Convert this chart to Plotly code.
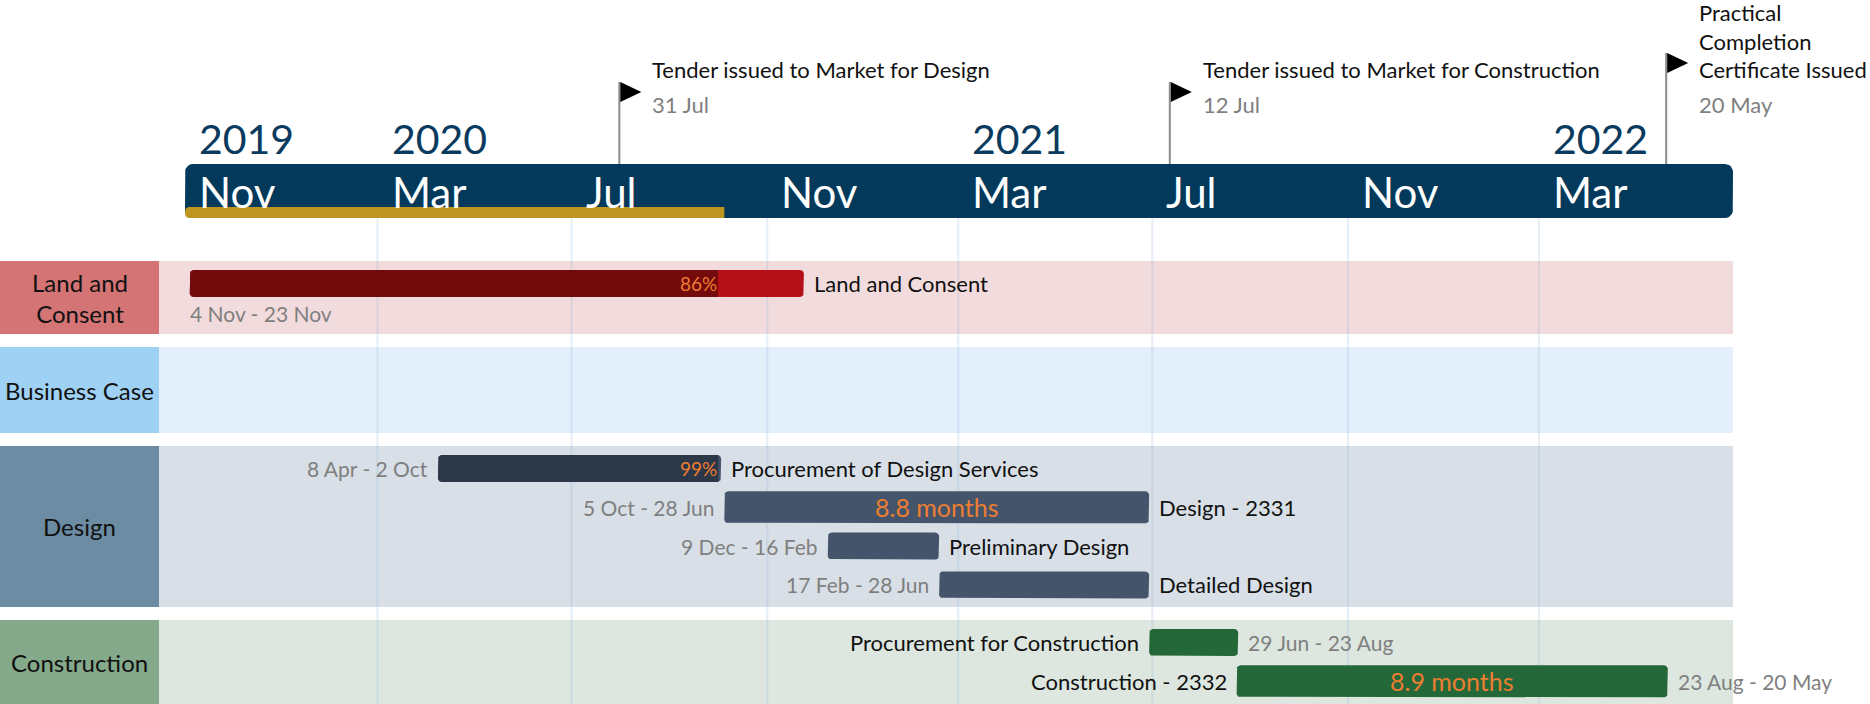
"""
Project timeline - swimlane Gantt with milestones
"""
import plotly.graph_objects as go
import numpy as np
import pandas as pd

# ---- chart data -------------------------------------------------------------
timeline_start = '2019-11-01'
timeline_end = '2022-07-01'
status_date = '2020-10-05'

month_ticks = ['2019-11-01', '2020-03-01', '2020-07-01', '2020-11-01',
               '2021-03-01', '2021-07-01', '2021-11-01', '2022-03-01']
month_labels = ['Nov', 'Mar', 'Jul', 'Nov', 'Mar', 'Jul', 'Nov', 'Mar']
year_ticks = ['2019-11-01', '2020-03-01', '2021-03-01', '2022-03-01']
year_labels = ['2019', '2020', '2021', '2022']

milestone_names = ['Tender issued to Market for Design',
                   'Tender issued to Market for Construction',
                   'Practical<br>Completion<br>Certificate Issued']
milestone_dates = ['2020-07-31', '2021-07-12', '2022-05-20']
milestone_date_labels = ['31 Jul', '12 Jul', '20 May']

lane_names = ['Land and<br>Consent', 'Business Case', 'Design', 'Construction']

task_names = ['Land and Consent', 'Procurement of Design Services', 'Design - 2331',
              'Preliminary Design', 'Detailed Design',
              'Procurement for Construction', 'Construction - 2332']
task_lane = [0, 2, 2, 2, 2, 3, 3]
task_row = [0, 0, 1, 2, 3, 0, 1]
task_start = ['2019-11-04', '2020-04-08', '2020-10-05', '2020-12-09',
              '2021-02-17', '2021-06-29', '2021-08-23']
task_end = ['2020-11-23', '2020-10-02', '2021-06-28', '2021-02-16',
            '2021-06-28', '2021-08-23', '2022-05-20']
task_date_labels = ['4 Nov - 23 Nov', '8 Apr - 2 Oct', '5 Oct - 28 Jun', '9 Dec - 16 Feb',
                    '17 Feb - 28 Jun', '29 Jun - 23 Aug', '23 Aug - 20 May']
task_progress = [86, 99, None, None, None, None, None]
task_duration_labels = [None, None, '8.8 months', None, None, None, '8.9 months']

# ---- styling ----------------------------------------------------------------
PAL = {
    'navy': '#033a5c',
    'year': '#0a3b5e',
    'gold': '#bd951f',
    'text': '#111111',
    'dim': '#7f7f7f',
    'orange': '#ed7d31',
    'flagline': '#8c8c8c',
    'grid': 'rgba(150,185,220,0.25)',
}
FONT = 'Lato, "Open Sans", sans-serif'
LANE_LABEL_COLORS = ['#d47474', '#9fd1f5', '#6b8ca2', '#85a98b']
LANE_BG_COLORS = ['#f2dbdc', '#e3f0fb', '#d8dfe6', '#dde7df']
TASK_COLORS = ['#b31117', '#44546a', '#44546a', '#44546a', '#44546a', '#24683a', '#24683a']
TASK_DONE_COLORS = ['#730a0b', '#2c3748', None, None, None, None, None]
NAME_SIDE = ['right', 'right', 'right', 'right', 'right', 'left', 'left']
DATE_SIDE = ['below', 'left', 'left', 'left', 'left', 'right', 'right']

# ---- layout (pixels) --------------------------------------------------------
W, H = 1870, 704
PLOT_X0, PLOT_X1 = 185, 1733
LABEL_W = 159
LANE_TOP = [261, 347, 446, 620]
LANE_BOTTOM = [334, 433, 607, 704]
ROW_OFFSET, ROW_PITCH = 22.5, 38.8
BAR_H, SUMMARY_H = 27, 32
TL_TOP, TL_BOTTOM = 164, 218
GOLD_H = 11

DAY = pd.Timedelta(days=1)
PX_PER_DAY = (PLOT_X1 - PLOT_X0) / (pd.Timestamp(timeline_end) - pd.Timestamp(timeline_start)).days


def add_bar(fig, t0, t1, y, h, color, r, round_left=True, round_right=True):
    """Rounded horizontal bar drawn as a filled outline on the date axis"""
    t0, t1 = pd.Timestamp(t0), pd.Timestamp(t1)
    rt = pd.Timedelta(days=r / PX_PER_DAY)
    top, bot = y - h / 2, y + h / 2
    arc = [float(a) for a in np.linspace(0, np.pi / 2, 7)]
    xs, ys = [], []
    if round_right:
        for a in arc:
            xs.append(t1 - rt + rt * np.sin(a)); ys.append(top + r - r * np.cos(a))
        for a in arc:
            xs.append(t1 - rt + rt * np.cos(a)); ys.append(bot - r + r * np.sin(a))
    else:
        xs += [t1, t1]; ys += [top, bot]
    if round_left:
        for a in arc:
            xs.append(t0 + rt - rt * np.sin(a)); ys.append(bot - r + r * np.cos(a))
        for a in arc:
            xs.append(t0 + rt - rt * np.cos(a)); ys.append(top + r - r * np.sin(a))
    else:
        xs += [t0, t0]; ys += [bot, top]
    xs.append(xs[0]); ys.append(ys[0])
    fig.add_trace(go.Scatter(x=xs, y=ys, mode='lines', fill='toself', fillcolor=color,
                             line=dict(width=0, color=color), hoverinfo='skip',
                             showlegend=False))


def label(fig, text, x, y, size, color, xanchor='left', xshift=0, xref='x', yanchor='middle'):
    fig.add_annotation(x=x, y=y, xref=xref, yref='y', text=text, showarrow=False,
                       xanchor=xanchor, yanchor=yanchor, xshift=xshift,
                       align='left' if xanchor == 'left' else 'center',
                       font=dict(family=FONT, size=size, color=color))


fig = go.Figure()

# swimlanes
for i, name in enumerate(lane_names):
    fig.add_shape(type='rect', xref='paper', yref='y', x0=0, x1=LABEL_W / W,
                  y0=LANE_TOP[i], y1=LANE_BOTTOM[i], fillcolor=LANE_LABEL_COLORS[i],
                  line_width=0, layer='below')
    fig.add_shape(type='rect', xref='paper', yref='y', x0=LABEL_W / W, x1=PLOT_X1 / W,
                  y0=LANE_TOP[i], y1=LANE_BOTTOM[i], fillcolor=LANE_BG_COLORS[i],
                  line_width=0, layer='below')
    label(fig, name, LABEL_W / 2 / W, (LANE_TOP[i] + LANE_BOTTOM[i]) / 2, 24,
          PAL['text'], xanchor='center', xref='paper')

# vertical grid below the timeline band
gx, gy = [], []
for d in month_ticks[1:]:
    gx += [d, d, None]
    gy += [TL_BOTTOM, H, None]
fig.add_trace(go.Scatter(x=gx, y=gy, mode='lines', line=dict(color=PAL['grid'], width=2),
                         hoverinfo='skip', showlegend=False))

# timeline band + status bar
add_bar(fig, timeline_start, timeline_end, (TL_TOP + TL_BOTTOM) / 2, TL_BOTTOM - TL_TOP,
        PAL['navy'], 8)
add_bar(fig, timeline_start, status_date, TL_BOTTOM - GOLD_H / 2, GOLD_H, PAL['gold'], 4,
        round_right=False)

for d, m in zip(month_ticks, month_labels):
    label(fig, m, d, 192, 42, 'white', xshift=12)
for d, yl in zip(year_ticks, year_labels):
    label(fig, yl, d, 138, 41, PAL['year'], xshift=12)

# milestones
for name, d, dl in zip(milestone_names, milestone_dates, milestone_date_labels):
    n_lines = name.count('<br>') + 1
    top = 82 - (n_lines - 1) * 14.5
    fig.add_shape(type='line', xref='x', yref='y', x0=d, x1=d, y0=top, y1=TL_TOP,
                  line=dict(color=PAL['flagline'], width=2))
    fig.add_shape(type='path', xref='x', yref='y', xsizemode='pixel', ysizemode='pixel',
                  xanchor=d, yanchor=top + 10, path='M 1,-10 L 22,0 L 1,10 Z',
                  fillcolor='black', line_width=0)
    label(fig, name, d, 85, 22, PAL['text'], xshift=31, yanchor='bottom')
    label(fig, dl, d, 104, 22, PAL['dim'], xshift=31)

# tasks
for i, name in enumerate(task_names):
    t0 = pd.Timestamp(task_start[i])
    t1 = pd.Timestamp(task_end[i]) + DAY
    y = LANE_TOP[task_lane[i]] + ROW_OFFSET + task_row[i] * ROW_PITCH
    h = SUMMARY_H if task_duration_labels[i] else BAR_H
    add_bar(fig, t0, t1, y, h, TASK_COLORS[i], 4)
    if task_progress[i] is not None:
        tp = t0 + (t1 - t0) * task_progress[i] / 100
        add_bar(fig, t0, tp, y, h, TASK_DONE_COLORS[i], 4, round_right=False)
        label(fig, f'{task_progress[i]}%', tp, y, 19, PAL['orange'], xanchor='right', xshift=1)
    if task_duration_labels[i]:
        label(fig, task_duration_labels[i], t0 + (t1 - t0) / 2, y, 25, PAL['orange'],
              xanchor='center')

    if NAME_SIDE[i] == 'right':
        label(fig, name, t1, y, 22, PAL['text'], xanchor='left', xshift=8)
    else:
        label(fig, name, t0, y, 22, PAL['text'], xanchor='right', xshift=-8)

    if DATE_SIDE[i] == 'left':
        label(fig, task_date_labels[i], t0, y, 21, PAL['dim'], xanchor='right', xshift=-8)
    elif DATE_SIDE[i] == 'right':
        label(fig, task_date_labels[i], t1, y, 21, PAL['dim'], xanchor='left', xshift=8)
    else:
        label(fig, task_date_labels[i], t0, y + 30, 21, PAL['dim'], xanchor='left', xshift=-2)

fig.update_layout(
    width=W, height=H,
    margin=dict(l=0, r=0, t=0, b=0),
    paper_bgcolor='white', plot_bgcolor='white',
    showlegend=False,
    font=dict(family=FONT),
    xaxis=dict(type='date', range=[timeline_start, timeline_end],
               domain=[PLOT_X0 / W, PLOT_X1 / W], visible=False, fixedrange=True),
    yaxis=dict(range=[H, 0], visible=False, fixedrange=True),
)

fig.write_html('out.html', config={'displayModeBar': False},
               post_script="document.body.style.margin='0';")
